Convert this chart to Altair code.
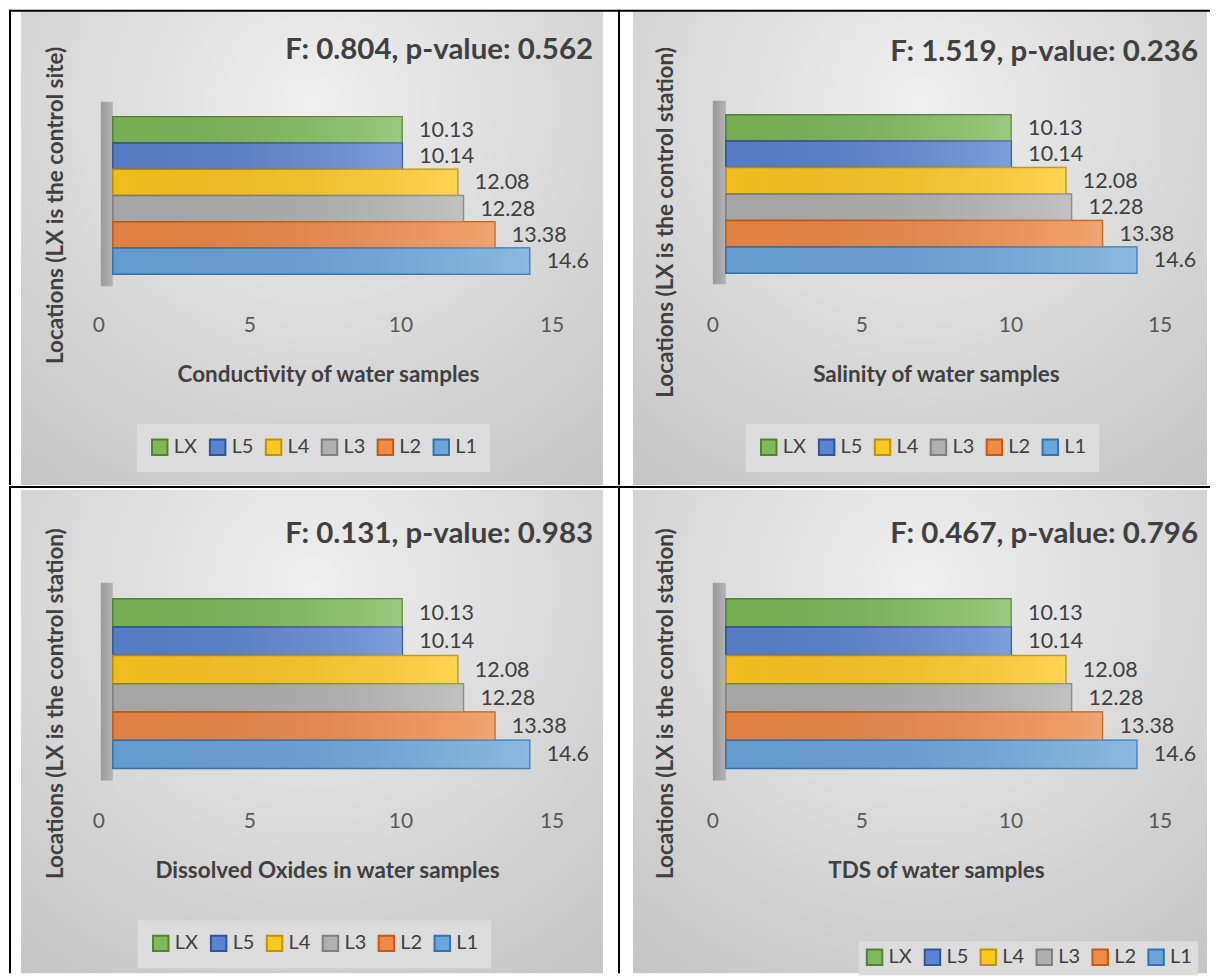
import altair as alt
import pandas as pd

# ---------------- data ----------------
locations = ["LX", "L5", "L4", "L3", "L2", "L1"]
conductivity = [10.13, 10.14, 12.08, 12.28, 13.38, 14.6]
salinity = [10.13, 10.14, 12.08, 12.28, 13.38, 14.6]
dissolved_oxides = [10.13, 10.14, 12.08, 12.28, 13.38, 14.6]
tds = [10.13, 10.14, 12.08, 12.28, 13.38, 14.6]
tick_values = [0, 5, 10, 15]

stat_titles = [
    "F: 0.804, p-value: 0.562",
    "F: 1.519, p-value: 0.236",
    "F: 0.131, p-value: 0.983",
    "F: 0.467, p-value: 0.796",
]
x_titles = [
    "Conductivity of water samples",
    "Salinity of water samples",
    "Dissolved Oxides in water samples",
    "TDS of water samples",
]
y_titles = [
    "Locations (LX is the control site)",
    "Locations (LX is the control station)",
    "Locations (LX is the control station)",
    "Locations (LX is the control station)",
]

# ---------------- styles ----------------
FILLS = ["#7fba5a", "#5a84d2", "#ffc820", "#b0b0b0", "#ef8a47", "#6ba5db"]
STROKES = ["#548235", "#2f5597", "#bf9000", "#7f7f7f", "#c55a11", "#2e75b6"]
FONT = "Lato"
DARK = "#404040"

BG_GRAD = alt.Gradient(
    gradient="radial",
    stops=[alt.GradientStop(offset=0, color="#efefef"),
           alt.GradientStop(offset=1, color="#c4c4c4")],
    x1=0.5, y1=0.25, r1=0, x2=0.5, y2=0.25, r2=0.85,
)
BAR_SHADE = alt.Gradient(
    gradient="linear",
    stops=[alt.GradientStop(offset=0, color="rgba(0,0,0,0.06)"),
           alt.GradientStop(offset=1, color="rgba(255,255,255,0.22)")],
    x1=0, x2=1, y1=0, y2=0,
)
WEDGE_GRAD = alt.Gradient(
    gradient="linear",
    stops=[alt.GradientStop(offset=0, color="#9a9a9a"),
           alt.GradientStop(offset=1, color="#b4b4b4")],
    x1=0, x2=1, y1=0, y2=0,
)


def panel(values, stat, xt, yt, g):
    W, H = g["W"], g["H"]
    df = pd.DataFrame({"loc": locations, "value": values})
    ticks = pd.DataFrame({"tick": tick_values})
    one = pd.DataFrame({"k": [0]})

    bg = alt.Chart(one).mark_rect(fill=BG_GRAD).encode(
        x=alt.value(g["gx0"]), x2=alt.value(g["gx1"]),
        y=alt.value(g["gy0"]), y2=alt.value(H))
    vline = alt.Chart(one).mark_rule(color="black", strokeWidth=2).encode(
        x=alt.value(g["bx"]), y=alt.value(0), y2=alt.value(H))
    hline = alt.Chart(one).mark_rule(color="black", strokeWidth=2).encode(
        x=alt.value(0), x2=alt.value(W), y=alt.value(g["by"]))
    wedge = alt.Chart(one).mark_rect(fill=WEDGE_GRAD).encode(
        x=alt.value(g["wx0"]), x2=alt.value(g["wx1"]),
        y=alt.value(g["wy0"]), y2=alt.value(g["wy1"]))

    xs = alt.Scale(domain=[0, 15], range=[g["x0"], g["x15"]], nice=False, zero=False)
    ys = alt.Scale(domain=locations, range=[g["y0"], g["y1"]],
                   paddingInner=0, paddingOuter=0)
    X = alt.X("value:Q", scale=xs, axis=None)
    Y = alt.Y("loc:N", scale=ys, axis=None)

    leg = alt.Legend(
        orient="none", legendX=g["legx"], legendY=g["legy"],
        direction="horizontal", columns=6, title=None,
        symbolType="square", symbolSize=240, symbolStrokeWidth=2,
        symbolOpacity=1,
        labelFont=FONT, labelFontSize=20, labelColor=DARK,
        labelOffset=4, columnPadding=8,
        fillColor="#dcdcdc", padding=g["legpad"],
    )
    bars = alt.Chart(df).mark_bar(strokeWidth=1.5, opacity=1).encode(
        x=X, y=Y,
        fill=alt.Fill("loc:N", scale=alt.Scale(domain=locations, range=FILLS), legend=leg),
        stroke=alt.Stroke("loc:N", scale=alt.Scale(domain=locations, range=STROKES), legend=leg),
    )
    shade = alt.Chart(df).mark_bar(fill=BAR_SHADE).encode(x=X, y=Y)
    vlabels = alt.Chart(df).mark_text(
        align="left", baseline="middle", dx=17, dy=1,
        font=FONT, fontSize=21.5, color=DARK,
    ).encode(x=X, y=Y, text=alt.Text("value:Q", format="~g"))

    tlabels = alt.Chart(ticks).mark_text(
        align="center", baseline="middle", font=FONT, fontSize=21, color="#595959",
    ).encode(
        x=alt.X("tick:Q", scale=alt.Scale(domain=[0, 15], range=[g["lx0"], g["lx15"]],
                                           nice=False, zero=False), axis=None),
        y=alt.value(g["ly"]),
        text=alt.Text("tick:Q"),
    )

    stat_t = alt.Chart(one).mark_text(
        text=stat, align="right", baseline="middle", font=FONT,
        fontSize=29.5, fontWeight="bold", color=DARK,
    ).encode(x=alt.value(g["sx"]), y=alt.value(g["sy"]))
    x_t = alt.Chart(one).mark_text(
        text=xt, align="center", baseline="middle", font=FONT,
        fontSize=22.5, fontWeight="bold", color=DARK,
    ).encode(x=alt.value(g["xtx"]), y=alt.value(g["xty"]))
    y_t = alt.Chart(one).mark_text(
        text=yt, align="center", baseline="middle", font=FONT, angle=270,
        fontSize=22.5, fontWeight="bold", color=DARK,
    ).encode(x=alt.value(g["ytx"]), y=alt.value(g["yty"]))

    return alt.layer(
        bg, vline, hline, wedge, bars, shade, vlabels, tlabels, stat_t, x_t, y_t
    ).resolve_scale(x="independent").properties(width=W, height=H)


G1 = dict(W=611, H=476, gx0=12, gx1=595, gy0=2, bx=1, by=1,
          wx0=92, wx1=104, wy0=92, wy1=277, x0=104, x15=533, y0=107, y1=265,
          lx0=90, lx15=544, ly=317, sx=585, sy=40, xtx=320, xty=366,
          ytx=47, yty=196, legx=128, legy=415, legpad=13)
G2 = dict(W=592, H=476, gx0=14, gx1=589, gy0=2, bx=0, by=1,
          wx0=94, wx1=107, wy0=91, wy1=275, x0=107, x15=530, y0=105, y1=264,
          lx0=94, lx15=542, ly=317, sx=580, sy=42, xtx=318, xty=366,
          ytx=47, yty=213, legx=127, legy=415, legpad=13)
G3 = dict(W=611, H=487, gx0=12, gx1=595, gy0=3, bx=1, by=0,
          wx0=92, wx1=104, wy0=96, wy1=294, x0=104, x15=533, y0=112, y1=282,
          lx0=90, lx15=544, ly=336, sx=585, sy=47, xtx=319, xty=385,
          ytx=47, yty=217, legx=129, legy=434, legpad=13)
G4 = dict(W=592, H=487, gx0=14, gx1=589, gy0=3, bx=0, by=0,
          wx0=94, wx1=107, wy0=96, wy1=294, x0=107, x15=530, y0=112, y1=282,
          lx0=94, lx15=542, ly=336, sx=580, sy=47, xtx=318, xty=385,
          ytx=47, yty=217, legx=240, legy=455, legpad=6)

p1 = panel(conductivity, stat_titles[0], x_titles[0], y_titles[0], G1)
p2 = panel(salinity, stat_titles[1], x_titles[1], y_titles[1], G2)
p3 = panel(dissolved_oxides, stat_titles[2], x_titles[2], y_titles[2], G3)
p4 = panel(tds, stat_titles[3], x_titles[3], y_titles[3], G4)

top = alt.hconcat(p1, p2, spacing=0, bounds="flush").resolve_scale(
    fill="independent", stroke="independent")
bottom = alt.hconcat(p3, p4, spacing=0, bounds="flush").resolve_scale(
    fill="independent", stroke="independent")

chart = alt.vconcat(top, bottom, spacing=0).resolve_scale(
    fill="independent", stroke="independent"
).properties(padding=0, background="white").configure_view(stroke=None)

chart.save("out.html", embed_options={"renderer": "svg", "actions": False})
